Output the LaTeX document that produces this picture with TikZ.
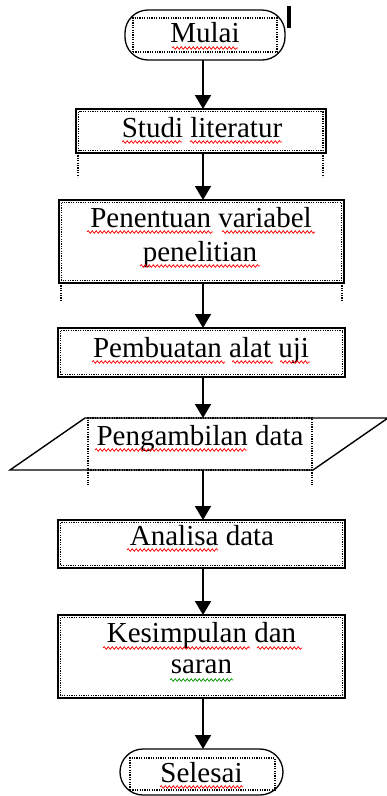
\documentclass[tikz,border=0pt]{standalone}
\usepackage{fontspec}
\setmainfont{Liberation Serif}
\usetikzlibrary{arrows.meta,decorations.pathmorphing,calc}
\begin{document}
\begin{tikzpicture}[x=1pt,y=-1pt,
  box/.style={draw,line width=1.7pt,rectangle,inner sep=0pt,outer sep=0pt},
  termbox/.style={draw,line width=1.3pt,rectangle,rounded corners=23pt,inner sep=0pt,outer sep=0pt},
  frame/.style={draw,line width=1.2pt,dash pattern=on 1.2pt off 1.2pt,rectangle,inner sep=0pt,outer sep=0pt},
  dotline/.style={line width=1.1pt,dash pattern=on 1.2pt off 1.2pt},
  txt/.style={font=\fontsize{29}{34}\selectfont,inner sep=0pt,anchor=base},
  arr/.style={line width=1.8pt,-{Triangle[width=16pt,length=14pt]}},
  sqr/.style={red,line width=0.7pt,decorate,decoration={snake,segment length=4pt,amplitude=1.3pt}},
  sqg/.style={sqr,green!60!black}]
\useasboundingbox[fill=white] (0,0) rectangle (387,796);
\coordinate (ax) at (203,0);

% Mulai
\node[termbox,minimum width=160pt,minimum height=50pt] (mulai) at (205,35) {};
\node[frame,minimum width=144pt,minimum height=34pt] (fmulai) at (205,35) {};
\node[txt] (tmulai) at (205,42) {Mulai};
\draw[line width=3.2pt] (289,6) -- (289,28);

% Studi literatur
\node[box,minimum width=250pt,minimum height=44pt] (studi) at (201,131) {};
\draw[frame] ([shift={(2.5,2.5)}]studi.north west) rectangle ([shift={(-3,-2.5)}]studi.south east);
\draw[dotline] (78,153) -- (78,177);
\draw[dotline] (323,153) -- (323,177);
\node[txt] (tstudi) at (202,137) {Studi literatur};

% Penentuan variabel penelitian
\node[box,minimum width=285pt,minimum height=83pt] (penentuan) at (201.5,241.5) {};
\draw[frame] ([shift={(2.5,2.5)}]penentuan.north west) rectangle ([shift={(-2.5,-2.5)}]penentuan.south east);
\draw[dotline] (61,283) -- (61,302);
\draw[dotline] (342,283) -- (342,302);
\node[txt] (tpen1) at (201,227) {Penentuan variabel};
\node[txt] (tpen2) at (200,261) {penelitian};

% Pembuatan alat uji
\node[box,minimum width=287pt,minimum height=49pt] (pembuatan) at (201.5,352.5) {};
\draw[frame] ([shift={(2.5,2.5)}]pembuatan.north west) rectangle ([shift={(-2.5,-2.5)}]pembuatan.south east);
\node[txt] (tpemb) at (201,357) {Pembuatan alat uji};

% Pengambilan data (parallelogram)
\draw[line width=1.4pt] (85,418) -- (388,418) -- (313,470) -- (10,470) -- cycle;
\node[frame,minimum width=224pt,minimum height=52pt] (pengambilan) at (200,444) {};
\draw[dotline] (88,470) -- (88,485);
\draw[dotline] (312,470) -- (312,485);
\node[txt] (tpeng) at (200,445) {Pengambilan data};

% Analisa data
\node[box,minimum width=287pt,minimum height=48pt] (analisa) at (201.5,544) {};
\draw[frame] ([shift={(2.5,2.5)}]analisa.north west) rectangle ([shift={(-2.5,-2.5)}]analisa.south east);
\node[txt] (tana) at (202,545) {Analisa data};

% Kesimpulan dan saran
\node[box,minimum width=287pt,minimum height=83pt] (kesimpulan) at (201.5,656.5) {};
\draw[frame] ([shift={(2.5,2.5)}]kesimpulan.north west) rectangle ([shift={(-2.5,-2.5)}]kesimpulan.south east);
\node[txt] (tkes1) at (201.5,642) {Kesimpulan dan};
\node[txt] (tkes2) at (201.5,673) {saran};

% Selesai
\node[termbox,minimum width=163pt,minimum height=46pt] (selesai) at (201.5,772) {};
\node[frame,minimum width=145pt,minimum height=32pt] (fselesai) at (202.5,774) {};
\node[txt] (tsel) at (201.5,782) {Selesai};

% spell-check squiggles
\draw[sqr] (172,48) -- (238,48);
\draw[sqr] (122,142) -- (182,142);
\draw[sqr] (190,142) -- (282,142);
\draw[sqr] (87,232) -- (213,232);
\draw[sqr] (222,232) -- (315,232);
\draw[sqr] (140,266) -- (260,266);
\draw[sqr] (92,362) -- (225,362);
\draw[sqr] (232,362) -- (273,362);
\draw[sqr] (280,362) -- (310,362);
\draw[sqr] (95,450) -- (247,450);
\draw[sqr] (127,550) -- (218,550);
\draw[sqr] (103,648) -- (250,648);
\draw[sqr] (257,648) -- (302,648);
\draw[sqg] (170,680) -- (233,680);
\draw[sqr] (160,787) -- (243,787);

% connectors
\draw[arr] (mulai.south -| ax) -- (studi.north -| ax);
\draw[arr] (studi.south -| ax) -- (penentuan.north -| ax);
\draw[arr] (penentuan.south -| ax) -- (pembuatan.north -| ax);
\draw[arr] (pembuatan.south -| ax) -- (pengambilan.north -| ax);
\draw[arr] (pengambilan.south -| ax) -- (analisa.north -| ax);
\draw[arr] (analisa.south -| ax) -- (kesimpulan.north -| ax);
\draw[arr] (kesimpulan.south -| ax) -- (selesai.north -| ax);
\end{tikzpicture}
\end{document}
